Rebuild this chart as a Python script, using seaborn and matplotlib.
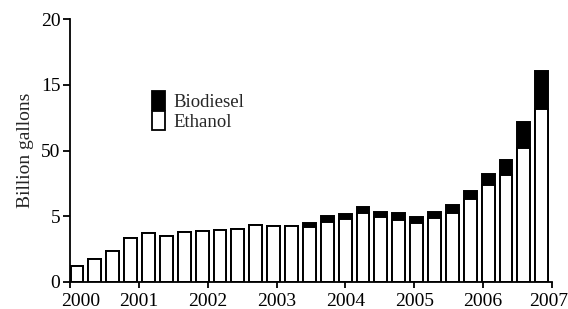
import matplotlib
matplotlib.use("Agg")
import matplotlib.pyplot as plt
import matplotlib.transforms as mtransforms
import seaborn as sns
import numpy as np
import pandas as pd
from matplotlib.patches import Patch

ethanol = [1.23, 1.73, 2.35, 3.35, 3.70, 3.50, 3.80, 3.90, 3.97, 4.00, 4.36, 4.23, 4.23,
           4.20, 4.59, 4.77, 5.27, 4.92, 4.71, 4.46, 4.84, 5.27, 6.31, 7.38, 8.12, 10.21, 13.13]
biodiesel = [0, 0, 0, 0, 0, 0, 0, 0, 0, 0, 0, 0, 0,
             0.30, 0.43, 0.40, 0.41, 0.38, 0.51, 0.48, 0.51, 0.61, 0.64, 0.82, 1.12, 1.93, 2.94]
years = [2000, 2001, 2002, 2003, 2004, 2005, 2006, 2007]
ytick_vals = [0, 5, 10, 15, 20]
ytick_labels = ["0", "5", "50", "15", "20"]

df = pd.DataFrame({
    "period": [str(i) for i in range(len(ethanol))],
    "ethanol": ethanol,
    "total": np.array(ethanol) + np.array(biodiesel),
})

sns.set_style("ticks")
plt.rcParams["font.family"] = ["Liberation Serif", "DejaVu Serif"]

fig = plt.figure(figsize=(5.68, 3.09), dpi=100)
ax = fig.add_axes([70 / 568, 1 - 282 / 309, (552 - 70) / 568, (282 - 19) / 309])

sns.barplot(data=df, x="period", y="total", color="black", edgecolor="black",
            linewidth=1.4, width=0.72, saturation=1, ax=ax)
sns.barplot(data=df, x="period", y="ethanol", color="white", edgecolor="black",
            linewidth=1.4, width=0.72, saturation=1, ax=ax)

x0, x1 = -0.39, 26.57
ax.set_xlim(x0, x1)
ax.set_ylim(0, 20)
tick_pos = [x0 + (y - years[0]) * (x1 - x0) / (years[-1] - years[0]) for y in years]
ax.set_xticks(tick_pos)
ax.set_xticklabels([str(y) for y in years], fontsize=14)
ax.set_yticks(ytick_vals)
ax.set_yticklabels(ytick_labels, fontsize=14)
ax.set_xlabel("")
ax.set_ylabel("Billion gallons", fontsize=14, labelpad=5)
ax.tick_params(axis="y", direction="out", length=5, width=1.3, pad=2, colors="black")
ax.tick_params(axis="x", direction="out", length=4, width=1.3, pad=4, colors="black")
for s in ["top", "right"]:
    ax.spines[s].set_visible(False)
for s in ["left", "bottom"]:
    ax.spines[s].set_linewidth(1.3)
    ax.spines[s].set_color("black")

xl = ax.get_xticklabels()
xl[0].set_transform(xl[0].get_transform() + mtransforms.ScaledTranslation(11 / 100, 0, fig.dpi_scale_trans))
xl[-1].set_transform(xl[-1].get_transform() + mtransforms.ScaledTranslation(-3 / 100, 0, fig.dpi_scale_trans))

handles = [Patch(facecolor="black", edgecolor="black", linewidth=1.3, label="Biodiesel"),
           Patch(facecolor="white", edgecolor="black", linewidth=1.3, label="Ethanol")]
fig.legend(handles=handles, loc="upper left", bbox_to_anchor=(152 / 568, 1 - 91 / 309),
           frameon=False, fontsize=13.5, handlelength=0.7, handleheight=1.2,
           labelspacing=0.0, borderpad=0, handletextpad=0.45, borderaxespad=0)

fig.savefig("out.png", dpi=100)
